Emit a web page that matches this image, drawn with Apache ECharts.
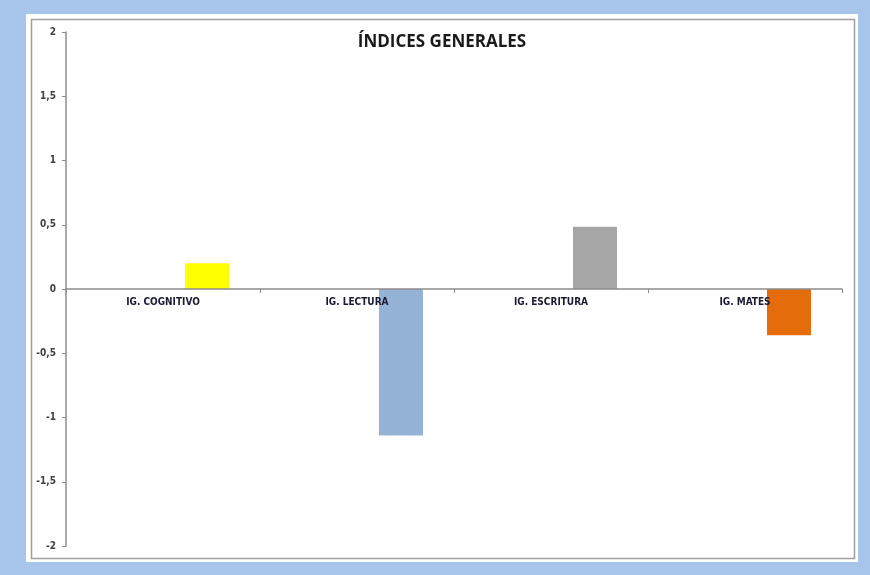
<!DOCTYPE html>
<html>
<head>
<meta charset="utf-8">
<script src="https://cdn.jsdelivr.net/npm/echarts@6/dist/echarts.min.js"></script>
<style>
  html, body { margin: 0; padding: 0; background: #fff; }
  #chart { width: 870px; height: 575px; }
</style>
</head>
<body>
<div id="chart"></div>
<script>
const categories = ["IG. COGNITIVO", "IG. LECTURA", "IG. ESCRITURA", "IG. MATES"];
const values = [0.2, -1.14, 0.485, -0.36];
const barColors = ["#ffff00", "#95b3d7", "#a6a6a6", "#e46c0a"];
const yMin = -2;
const yMax = 2;
const yStep = 0.5;

const chart = echarts.init(document.getElementById("chart"));

// grid is 514px tall, zero sits half way -> lift the category axis up onto it
const gridTop = 32;
const gridBottom = 29;
const plotH = 575 - gridTop - gridBottom;
const zeroLift = -plotH * (0 - yMin) / (yMax - yMin);

const option = {
  backgroundColor: "#a7c4ea",
  animation: false,
  graphic: [
    // white panel
    { type: "rect", shape: { x: 26, y: 14, width: 832, height: 548 }, style: { fill: "#fff" }, z: -10 },
    // inner border
    { type: "rect", shape: { x: 31.5, y: 19.5, width: 823, height: 539 },
      style: { fill: "none", stroke: "#a0a0a0", lineWidth: 1.5 }, z: -9 }
  ],
  title: {
    text: "ÍNDICES GENERALES",
    left: 437,
    top: 29,
    textAlign: "center",
    textStyle: { fontFamily: "Open Sans, sans-serif", fontSize: 17, fontWeight: "bold", color: "#1a1a1a" }
  },
  grid: { left: 66, right: 28, top: gridTop, bottom: gridBottom },
  xAxis: {
    type: "category",
    data: categories,
    offset: zeroLift,
    axisLine: { onZero: false, lineStyle: { color: "#8c8c8c", width: 1.5 } },
    axisTick: { show: true, length: 4, lineStyle: { color: "#8c8c8c" } },
    axisLabel: {
      margin: 8,
      fontSize: 10,
      fontWeight: "bold",
      fontFamily: "Liberation Sans Narrow, DejaVu Sans Condensed, sans-serif",
      color: "#1a1a33"
    },
    z: 10
  },
  yAxis: {
    type: "value",
    min: yMin,
    max: yMax,
    interval: yStep,
    splitLine: { show: false },
    axisLine: { show: true, lineStyle: { color: "#8c8c8c", width: 1.5 } },
    axisTick: { show: true, length: 4, lineStyle: { color: "#8c8c8c" } },
    axisLabel: {
      margin: 10,
      fontSize: 10,
      fontWeight: "bold",
      fontFamily: "Liberation Sans Narrow, DejaVu Sans Condensed, sans-serif",
      color: "#404040",
      formatter: function (v) { return String(v).replace(".", ","); }
    }
  },
  series: [
    {
      name: "blank",
      type: "bar",
      barWidth: 44,
      barGap: "100%",
      data: categories.map(function () { return "-"; })
    },
    {
      name: "IG",
      type: "bar",
      barWidth: 44,
      barGap: "100%",
      data: values.map(function (v, i) {
        return { value: v, itemStyle: { color: barColors[i] } };
      })
    }
  ]
};

chart.setOption(option);
</script>
</body>
</html>
